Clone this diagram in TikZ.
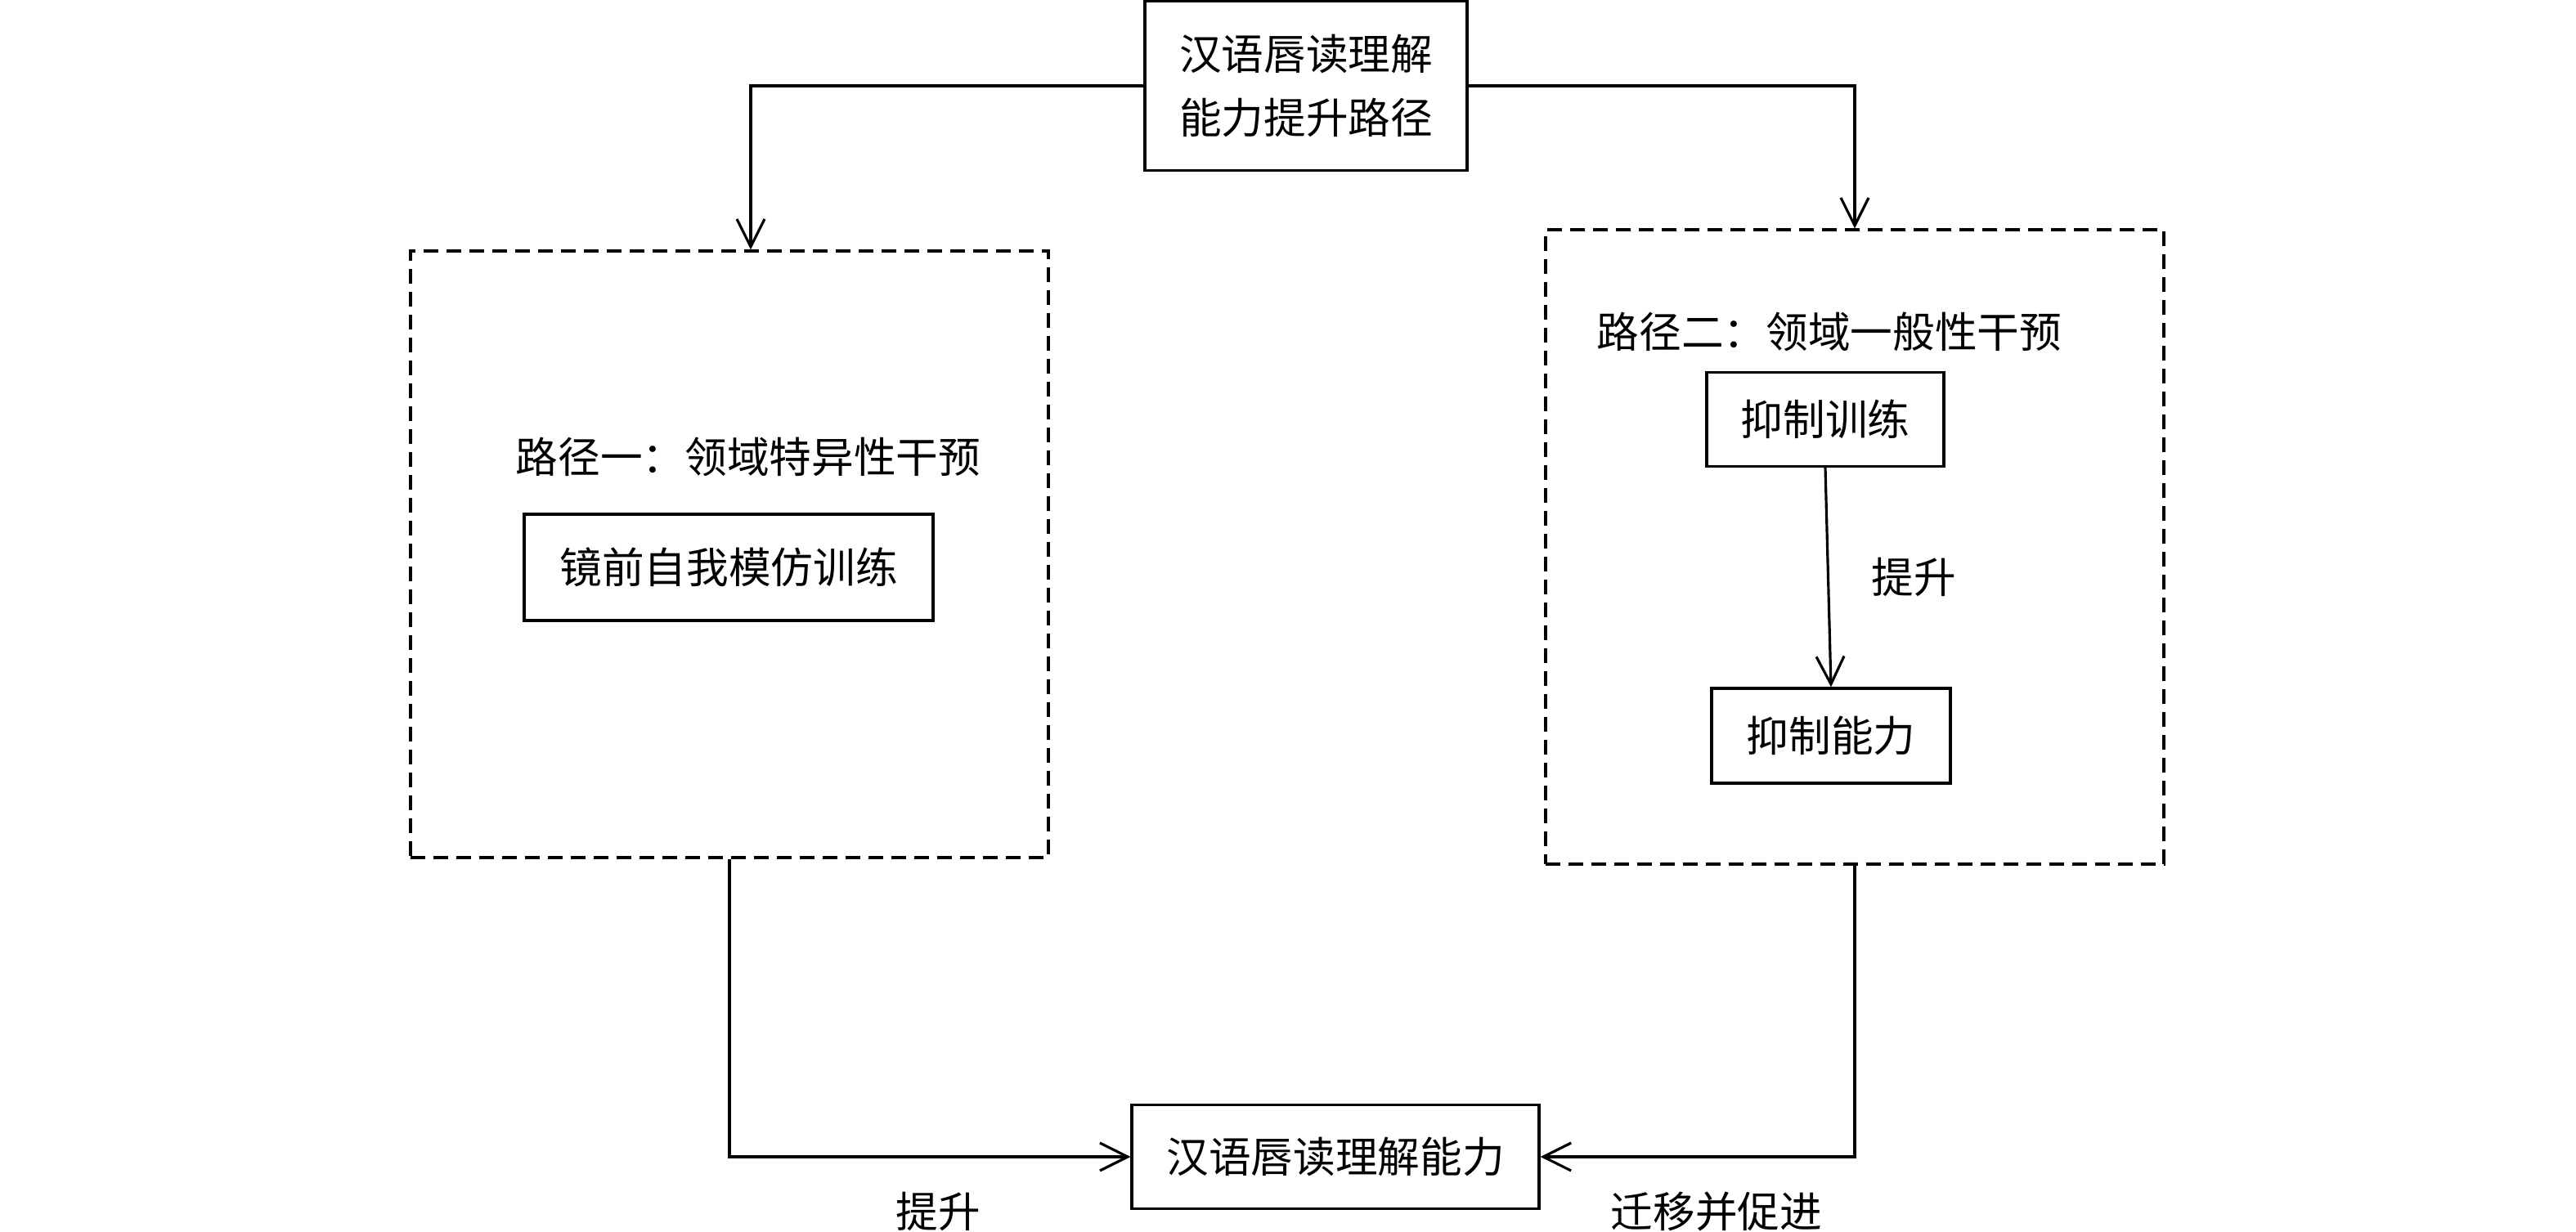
\documentclass[tikz,border=0pt]{standalone}
\usepackage{fontspec}
\setmainfont{Noto Sans CJK SC}
\usetikzlibrary{arrows.meta,positioning}
\tikzset{>={Straight Barb[length=3.4mm,width=3.4mm]}}

\begin{document}
\begin{tikzpicture}[
                every node/.append style={align=center, font=\fontsize{14.7pt}{22pt}\selectfont},
                blk/.style={draw, line width=0.9pt, inner sep=0pt},
                grp/.style={draw, line width=0.9pt, dash pattern=on 1.8mm off 1mm, inner sep=0pt},
                lnk/.style={line width=0.9pt}]
               \useasboundingbox (0,0) rectangle (31.5,-15.06);

               \node [blk, minimum width=3.94cm, minimum height=2.07cm] (top) at (15.97,-1.05) {汉语唇读理解\\能力提升路径};

               % path one
               \node [grp, minimum width=7.80cm, minimum height=7.42cm] (g1) at (8.92,-6.78) {};
               \node (l1) at (9.15,-5.59) {路径一：领域特异性干预};
               \node [blk, minimum width=5.00cm, minimum height=1.30cm] (mirror) at (8.91,-6.94) {镜前自我模仿训练};

               % path two
               \node [grp, minimum width=7.56cm, minimum height=7.76cm] (g2) at (22.68,-6.69) {};
               \node (l2) at (22.37,-4.06) {路径二：领域一般性干预};
               \node [blk, minimum width=2.90cm, minimum height=1.15cm] (train) at (22.32,-5.13) {抑制训练};
               \node [blk, minimum width=2.92cm, minimum height=1.16cm] (inhib) at (22.39,-9.00) {抑制能力};

               \node [blk, minimum width=4.98cm, minimum height=1.27cm] (res) at (16.33,-14.15) {汉语唇读理解能力};

               \draw[lnk, ->] (top.west) -| ([xshift=0.26cm]g1.north);
               \draw[lnk, ->] (top.east) -| (g2.north);
               \draw[lnk, ->] (train.south) -- (inhib.north) node[midway, right=0.4cm] {提升};
               \draw[lnk, ->] (g1.south) |- (res.west) node[pos=0.76, below=0.3cm] {提升};
               \draw[lnk, ->] (g2.south) |- (res.east) node[pos=0.72, below=0.3cm] {迁移并促进};
        \end{tikzpicture}
\end{document}
